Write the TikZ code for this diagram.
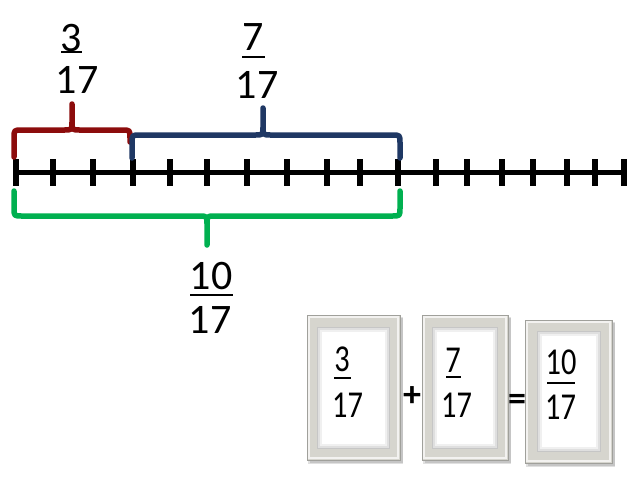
\documentclass[tikz,border=0pt]{standalone}
\usepackage{fontspec}
\setmainfont{Carlito}
\newfontfamily\narrowfont[FakeStretch=0.8]{Carlito}
\definecolor{bred}{RGB}{140,12,12}
\definecolor{bblue}{RGB}{31,56,100}
\definecolor{bgreen}{RGB}{0,176,80}
\definecolor{framegray}{RGB}{214,213,206}
\definecolor{frameedge}{RGB}{160,160,155}
\begin{document}
\begin{tikzpicture}[x=1pt,y=-1pt,
  big/.style={inner sep=0pt, font=\fontsize{42}{48}\selectfont},
  small/.style={inner sep=0pt, font=\narrowfont\fontsize{38}{44}\selectfont},
  ops/.style={inner sep=0pt, font=\bfseries\fontsize{36}{42}\selectfont},
  uline/.style={line width=2.5pt},
  brace/.style={line width=5.5pt, line cap=round, line join=round},
  tickmark/.style={line width=6pt},
  outerframe/.style={draw=frameedge, line width=1pt, fill=framegray, inner sep=0pt},
  innerframe/.style={draw=gray!45, line width=1pt, fill=white, inner sep=0pt},
  shadowbox/.style={fill=black, opacity=0.12, draw=none, inner sep=0pt}
]
\useasboundingbox (0,0) rectangle (640,480);

% number line
\draw[line width=5pt] (16,172) -- (624,172);
\foreach \x in {16,53,93,133,170,207,247,287,327,360,398,436,467,502,533,567,595,624}
  \draw[tickmark] (\x,159) -- (\x,186);

% braces
\draw[brace,bred] (14,157) -- (14,138) .. controls (14,130) .. (22,130) -- (64,130)
  .. controls (72,130) .. (72,122) -- (72,104)
  (72,122) .. controls (72,130) .. (80,130) -- (122,130) .. controls (130,130) .. (130,138) -- (130,142);
\draw[brace,bblue] (132,158) -- (132,143) .. controls (132,135) .. (140,135) -- (255,135)
  .. controls (263,135) .. (263,127) -- (263,108)
  (263,127) .. controls (263,135) .. (271,135) -- (392,135) .. controls (400,135) .. (400,143) -- (400,158);
\draw[brace,bgreen] (14,191) -- (14,208) .. controls (14,216) .. (22,216) -- (199,216)
  .. controls (207,216) .. (207,224) -- (207,245)
  (207,224) .. controls (207,216) .. (215,216) -- (392,216) .. controls (400,216) .. (400,208) -- (400,191);

% top fractions
\node[big] (n3) at (71,38) {3};
\draw[uline] (61,52) -- (82,52);
\node[big] (d3) at (77,80) {17};
\node[big] (n7) at (253,37) {7};
\draw[uline] (242,57) -- (265,57);
\node[big] (d7) at (257,85) {17};
\node[big] (n10) at (211,276) {10};
\draw[uline] (190,295) -- (233,295);
\node[big] (d10) at (210,320) {17};

% frames
\foreach \cx/\cy/\w/\h/\iw/\ih in {353.5/387.5/93/145/72/121, 465/387.5/86/145/65/121, 568.5/391.5/87/143/63/120}{
  \node[shadowbox, minimum width=\w pt, minimum height=\h pt] at (\cx+3,\cy+3) {};
  \node[shadowbox, minimum width=\w pt+2pt, minimum height=\h pt+2pt] at (\cx+2,\cy+3) {};
  \node[outerframe, minimum width=\w pt, minimum height=\h pt] at (\cx,\cy) {};
  \node[draw=white!70!framegray, line width=1.5pt, minimum width=\w pt-4pt, minimum height=\h pt-4pt, inner sep=0pt] at (\cx,\cy) {};
  \node[innerframe, minimum width=\iw pt, minimum height=\ih pt] at (\cx,\cy) {};
  \node[draw=gray!25, line width=2pt, minimum width=\iw pt-3pt, minimum height=\ih pt-3pt, inner sep=0pt] at (\cx,\cy) {};
  \node[draw=gray!12, line width=2pt, minimum width=\iw pt-7pt, minimum height=\ih pt-7pt, inner sep=0pt] at (\cx,\cy) {};
}

% frame fractions
\node[small] (fn3) at (342,359) {3};
\draw[uline] (334,378) -- (351,378);
\node[small] (fd3) at (347.5,405.5) {17};
\node[small] (fn7) at (453,360) {7};
\draw[uline] (446,377) -- (461,377);
\node[small] (fd7) at (456.5,405.5) {17};
\node[small] (fn10) at (561,362) {10};
\draw[uline] (547,383) -- (575,383);
\node[small] (fd10) at (560.5,407.5) {17};

\node[ops] (plus) at (412,397) {+};
\node[ops] (eq) at (517,402) {=};
\end{tikzpicture}
\end{document}
